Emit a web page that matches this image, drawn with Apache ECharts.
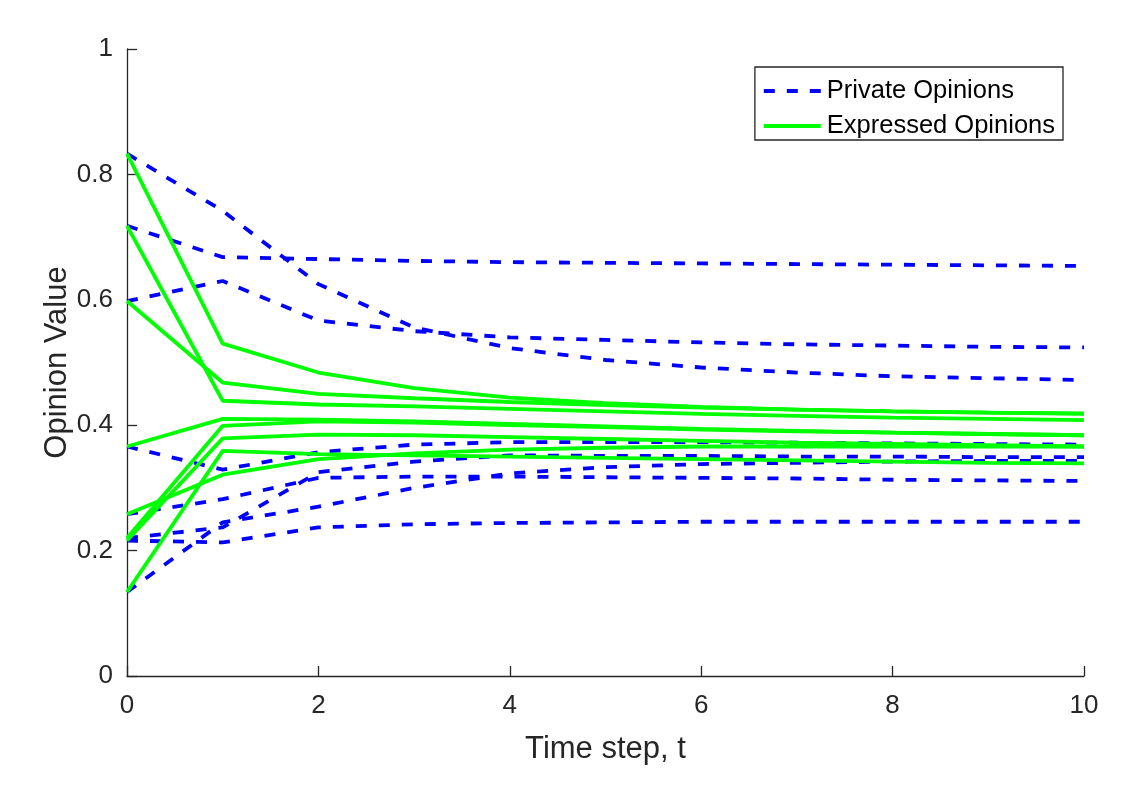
<!DOCTYPE html>
<html>
<head>
<meta charset="utf-8">
<script src="https://cdn.jsdelivr.net/npm/echarts@6/dist/echarts.min.js"></script>
<style>
html,body{margin:0;padding:0;background:#fff;}
#chart{width:1130px;height:795px;}
</style>
</head>
<body>
<div id="chart"></div>
<script>
const timeSteps = [0,1,2,3,4,5,6,7,8,9,10];
const xTicks = [0,2,4,6,8,10];
const yTicks = [0,0.2,0.4,0.6,0.8,1];

// Private opinions (blue dashed)
const private1 = [0.833,0.742,0.625,0.556,0.523,0.504,0.492,0.484,0.478,0.475,0.472];
const private2 = [0.718,0.668,0.665,0.662,0.660,0.659,0.658,0.657,0.656,0.655,0.654];
const private3 = [0.598,0.630,0.567,0.550,0.540,0.536,0.532,0.529,0.527,0.525,0.524];
const private4 = [0.366,0.329,0.357,0.369,0.373,0.373,0.373,0.372,0.371,0.370,0.369];
const private5 = [0.258,0.282,0.316,0.318,0.318,0.317,0.316,0.315,0.313,0.312,0.311];
const private6 = [0.220,0.237,0.325,0.342,0.352,0.351,0.351,0.350,0.350,0.349,0.349];
const private7 = [0.216,0.213,0.237,0.242,0.244,0.245,0.246,0.246,0.246,0.246,0.246];
const private8 = [0.134,0.245,0.270,0.300,0.323,0.333,0.338,0.340,0.342,0.343,0.343];

// Expressed opinions (green solid)
const expressed1 = [0.833,0.530,0.484,0.459,0.444,0.435,0.429,0.425,0.422,0.420,0.419];
const expressed2 = [0.718,0.439,0.433,0.430,0.426,0.422,0.418,0.415,0.412,0.410,0.408];
const expressed3 = [0.598,0.468,0.450,0.443,0.437,0.432,0.428,0.425,0.422,0.420,0.418];
const expressed4 = [0.366,0.410,0.409,0.406,0.402,0.398,0.394,0.391,0.388,0.386,0.384];
const expressed5 = [0.258,0.321,0.346,0.355,0.361,0.364,0.366,0.366,0.366,0.366,0.366];
const expressed6 = [0.220,0.399,0.406,0.404,0.400,0.397,0.393,0.390,0.388,0.386,0.384];
const expressed7 = [0.216,0.379,0.385,0.384,0.381,0.378,0.375,0.372,0.370,0.368,0.366];
const expressed8 = [0.134,0.359,0.354,0.352,0.350,0.348,0.346,0.344,0.342,0.340,0.339];

const privateSeries = [private1,private2,private3,private4,private5,private6,private7,private8];
const expressedSeries = [expressed1,expressed2,expressed3,expressed4,expressed5,expressed6,expressed7,expressed8];

const FONT = '"Liberation Sans", Arial, sans-serif';
const AXIS_COLOR = '#262626';

function toPairs(arr){ return arr.map((v,i)=>[timeSteps[i], v]); }

const series = [];
privateSeries.forEach(arr=>{
  series.push({
    name:'Private Opinions', type:'line', data:toPairs(arr),
    symbol:'none', silent:true, animation:false,
    lineStyle:{color:'#0000ff', width:3.8, type:[11,12], cap:'butt'},
    itemStyle:{color:'#0000ff'}
  });
});
expressedSeries.forEach(arr=>{
  series.push({
    name:'Expressed Opinions', type:'line', data:toPairs(arr),
    symbol:'none', silent:true, animation:false,
    lineStyle:{color:'#00ff00', width:3.8, type:'solid'},
    itemStyle:{color:'#00ff00'}
  });
});

const chart = echarts.init(document.getElementById('chart'), null, {renderer:'canvas'});
chart.setOption({
  backgroundColor:'#ffffff',
  animation:false,
  textStyle:{fontFamily:FONT},
  grid:{left:127, right:46, top:49, bottom:119, containLabel:false},
  legend:{
    data:['Private Opinions','Expressed Opinions'],
    orient:'vertical', right:67, top:67,
    backgroundColor:'#ffffff', borderColor:AXIS_COLOR, borderWidth:1.3,
    padding:[10,8,0,7], itemGap:7, itemWidth:57, itemHeight:14,
    itemStyle:{opacity:0},
    lineStyle:{width:3.8},
    textStyle:{fontFamily:FONT, fontSize:25.5, color:'#000', lineHeight:28, padding:[0,0,0,1]}
  },
  xAxis:{
    type:'value', min:xTicks[0], max:xTicks[xTicks.length-1], interval:2,
    name:'Time step, t', nameLocation:'middle', nameGap:58, nameMoveOverlap:false,
    nameTextStyle:{fontFamily:FONT, fontSize:31, color:AXIS_COLOR},
    axisLine:{show:true, onZero:false, lineStyle:{color:AXIS_COLOR, width:1.3}},
    axisTick:{show:true, inside:true, length:10, lineStyle:{color:AXIS_COLOR, width:1.3}},
    axisLabel:{fontFamily:FONT, fontSize:26, color:AXIS_COLOR, margin:17},
    splitLine:{show:false}
  },
  yAxis:{
    type:'value', min:yTicks[0], max:yTicks[yTicks.length-1], interval:0.2,
    name:'Opinion Value', nameLocation:'middle', nameGap:54, nameMoveOverlap:false,
    nameTextStyle:{fontFamily:FONT, fontSize:31, color:AXIS_COLOR},
    axisLine:{show:true, onZero:false, lineStyle:{color:AXIS_COLOR, width:1.3}},
    axisTick:{show:true, inside:true, length:10, lineStyle:{color:AXIS_COLOR, width:1.3}},
    axisLabel:{fontFamily:FONT, fontSize:26, color:AXIS_COLOR, margin:14,
      formatter:function(v){ return String(Math.round(v*10)/10); }},
    splitLine:{show:false}
  },
  series:series
});
</script>
</body>
</html>
